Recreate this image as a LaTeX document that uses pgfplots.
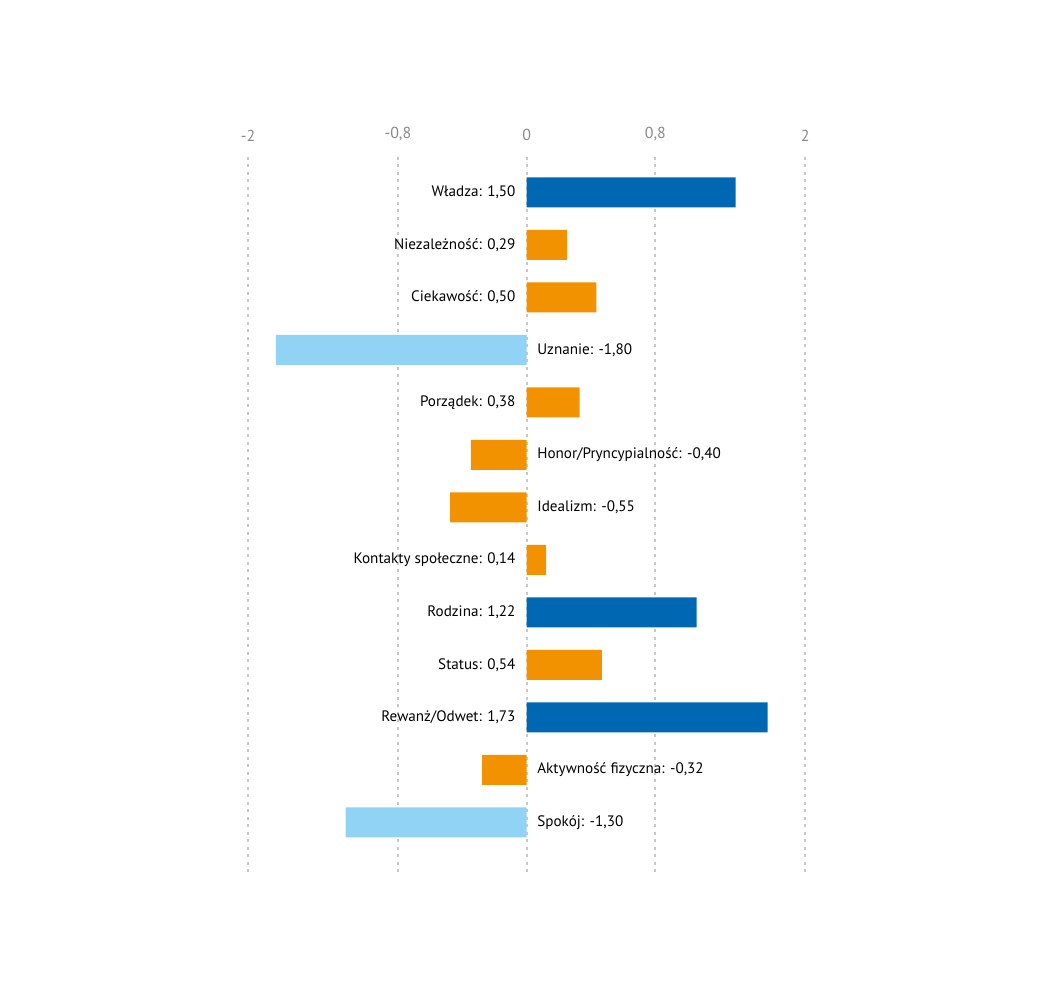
\documentclass[border=0pt]{standalone}
\usepackage{fontspec}
\setmainfont{PT Sans}
\usepackage{pgfplots}
\pgfplotsset{compat=1.18}
\definecolor{dblue}{HTML}{0068B3}
\definecolor{orng}{HTML}{F39200}
\definecolor{lblue}{HTML}{91D3F4}
\definecolor{gridc}{HTML}{C8C8C8}
\definecolor{tickc}{HTML}{8A8A8A}
\begin{document}
\begin{tikzpicture}[x=1bp,y=1bp]
\path[use as bounding box] (0,0) rectangle (1050,1000);
\begin{axis}[
  at={(248bp,127bp)}, anchor=south west,
  scale only axis, width=557.3bp, height=716.3bp,
  xmin=-2, xmax=2, ymin=-0.678, ymax=12.966,
  y dir=reverse,
  axis line style={draw=none},
  xtick={-2,-0.924,0,0.924,2},
  xticklabels={-2,{-0,8},0,{0,8},2},
  xticklabel pos=upper,
  xticklabel style={font=\fontsize{16}{19}\selectfont, text=tickc, yshift=12bp},
  /pgf/number format/assume math mode=true,
  ytick=\empty,
  major tick length=0pt,
  xmajorgrids,
  major grid style={gridc, line width=1.8bp, dash pattern=on 3bp off 4.5bp},
  xbar, bar width=30bp, bar shift=0pt,
  clip=false,
]
\addplot[fill=dblue, draw=none] coordinates {(1.50,0) (1.22,8) (1.73,10)};
\addplot[fill=orng, draw=none] coordinates {(0.29,1) (0.50,2) (0.38,4) (-0.40,5) (-0.55,6) (0.14,7) (0.54,9) (-0.32,11)};
\addplot[fill=lblue, draw=none] coordinates {(-1.80,3) (-1.30,12)};
\begin{scope}[every node/.style={font=\fontsize{15.2}{18}\selectfont, text=black, inner sep=0pt}]
\node[anchor=east] at (axis cs:0,0) [xshift=-11bp] {Władza: 1,50};
\node[anchor=east] at (axis cs:0,1) [xshift=-11bp] {Niezależność: 0,29};
\node[anchor=east] at (axis cs:0,2) [xshift=-11bp] {Ciekawość: 0,50};
\node[anchor=west] at (axis cs:0,3) [xshift=10.5bp] {Uznanie: -1,80};
\node[anchor=east] at (axis cs:0,4) [xshift=-11bp] {Porządek: 0,38};
\node[anchor=west] at (axis cs:0,5) [xshift=10.5bp] {Honor/Pryncypialność: -0,40};
\node[anchor=west] at (axis cs:0,6) [xshift=10.5bp] {Idealizm: -0,55};
\node[anchor=east] at (axis cs:0,7) [xshift=-11bp] {Kontakty społeczne: 0,14};
\node[anchor=east] at (axis cs:0,8) [xshift=-11bp] {Rodzina: 1,22};
\node[anchor=east] at (axis cs:0,9) [xshift=-11bp] {Status: 0,54};
\node[anchor=east] at (axis cs:0,10) [xshift=-11bp] {Rewanż/Odwet: 1,73};
\node[anchor=west] at (axis cs:0,11) [xshift=10.5bp] {Aktywność fizyczna: -0,32};
\node[anchor=west] at (axis cs:0,12) [xshift=10.5bp] {Spokój: -1,30};
\end{scope}
\end{axis}
\end{tikzpicture}
\end{document}
